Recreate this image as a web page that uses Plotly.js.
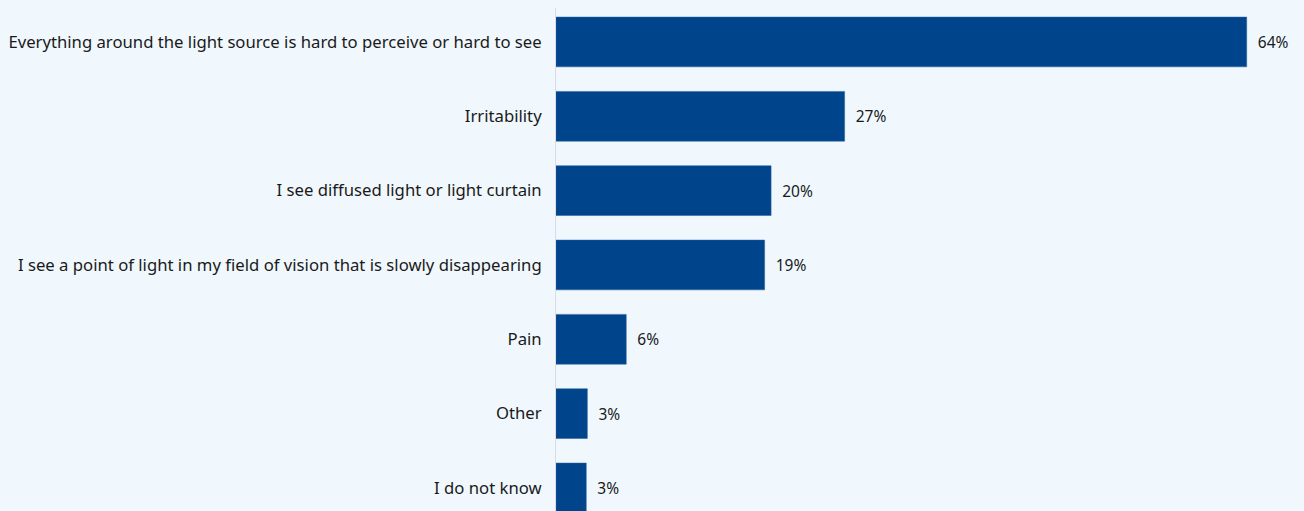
<!DOCTYPE html>
<html>
<head>
<meta charset="utf-8">
<script src="https://cdn.plot.ly/plotly-3.0.1.min.js"></script>
<style>html,body{margin:0;padding:0;background:#F0F8FE;}#chart{width:1304px;height:511px;}</style>
</head>
<body>
<div id="chart"></div>
<script>
const categories = [
  "Everything around the light source is hard to perceive or hard to see",
  "Irritability",
  "I see diffused light or light curtain",
  "I see a point of light in my field of vision that is slowly disappearing",
  "Pain",
  "Other",
  "I do not know"
];
const values = [63.9, 26.7, 19.9, 19.3, 6.5, 2.9, 2.8];
const labels = ["64%", "27%", "20%", "19%", "6%", "3%", "3%"];

const trace = {
  type: 'bar',
  orientation: 'h',
  y: categories,
  x: values,
  text: labels.map(s => '\u00a0\u00a0' + s),
  textposition: 'outside',
  cliponaxis: false,
  textfont: {family: 'Noto Sans, sans-serif', size: 15.5, color: '#1a1a1a'},
  marker: {color: '#00458C', line: {color: '#2a5f9a', width: 0.5}},
  width: 0.67,
  hoverinfo: 'none'
};

const layout = {
  width: 1304,
  height: 511,
  paper_bgcolor: '#F0F8FE',
  plot_bgcolor: '#F0F8FE',
  margin: {l: 556, r: 0, t: 8, b: 0, pad: 0},
  showlegend: false,
  bargap: 0.33,
  xaxis: {range: [0, 69.2], visible: false, fixedrange: true},
  yaxis: {
    type: 'category',
    range: [6.31, -0.457],
    showline: true,
    linecolor: '#d9dde2',
    linewidth: 1,
    showgrid: false,
    zeroline: false,
    ticks: '',
    ticklabelstandoff: 10,
    tickfont: {family: 'Noto Sans, sans-serif', size: 16.7, color: '#1a1a1a'},
    fixedrange: true
  }
};

Plotly.newPlot('chart', [trace], layout, {displayModeBar: false, staticPlot: true});
</script>
</body>
</html>
